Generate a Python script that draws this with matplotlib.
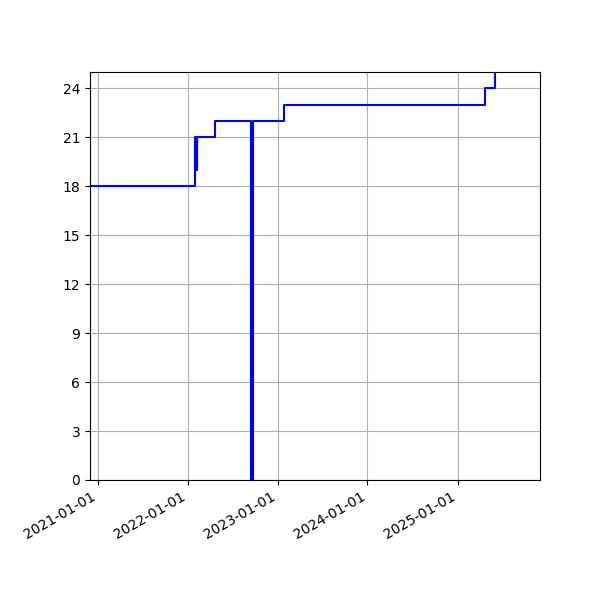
import numpy as np
import matplotlib
matplotlib.use('Agg')
import matplotlib.pyplot as plt
import matplotlib.dates as mdates

# dates where the value changes, and the value from that date on
dates = ['2020-11-01', '2022-02-02', '2022-02-07', '2022-02-09', '2022-04-24',
         '2022-09-17', '2022-09-25', '2023-01-29', '2025-04-21', '2025-06-02']
values = [18, 21, 19, 21, 22, 0, 22, 23, 24, 25]

x = np.array(dates, dtype='datetime64[D]')

fig, ax = plt.subplots(figsize=(6, 6), dpi=100)
ax.step(x, values, where='post', color='b', linewidth=1.5)

ax.set_xlim(np.datetime64('2020-12-01'), np.datetime64('2025-12-01'))
ax.set_ylim(0, 25)
ax.set_yticks(np.arange(0, 25, 3))
ax.xaxis.set_major_locator(mdates.YearLocator())
ax.xaxis.set_major_formatter(mdates.DateFormatter('%Y-%m-%d'))
ax.grid('on')
fig.autofmt_xdate()
fig.subplots_adjust(left=0.15, right=0.9, top=0.88, bottom=0.2)

plt.savefig('out.png')
